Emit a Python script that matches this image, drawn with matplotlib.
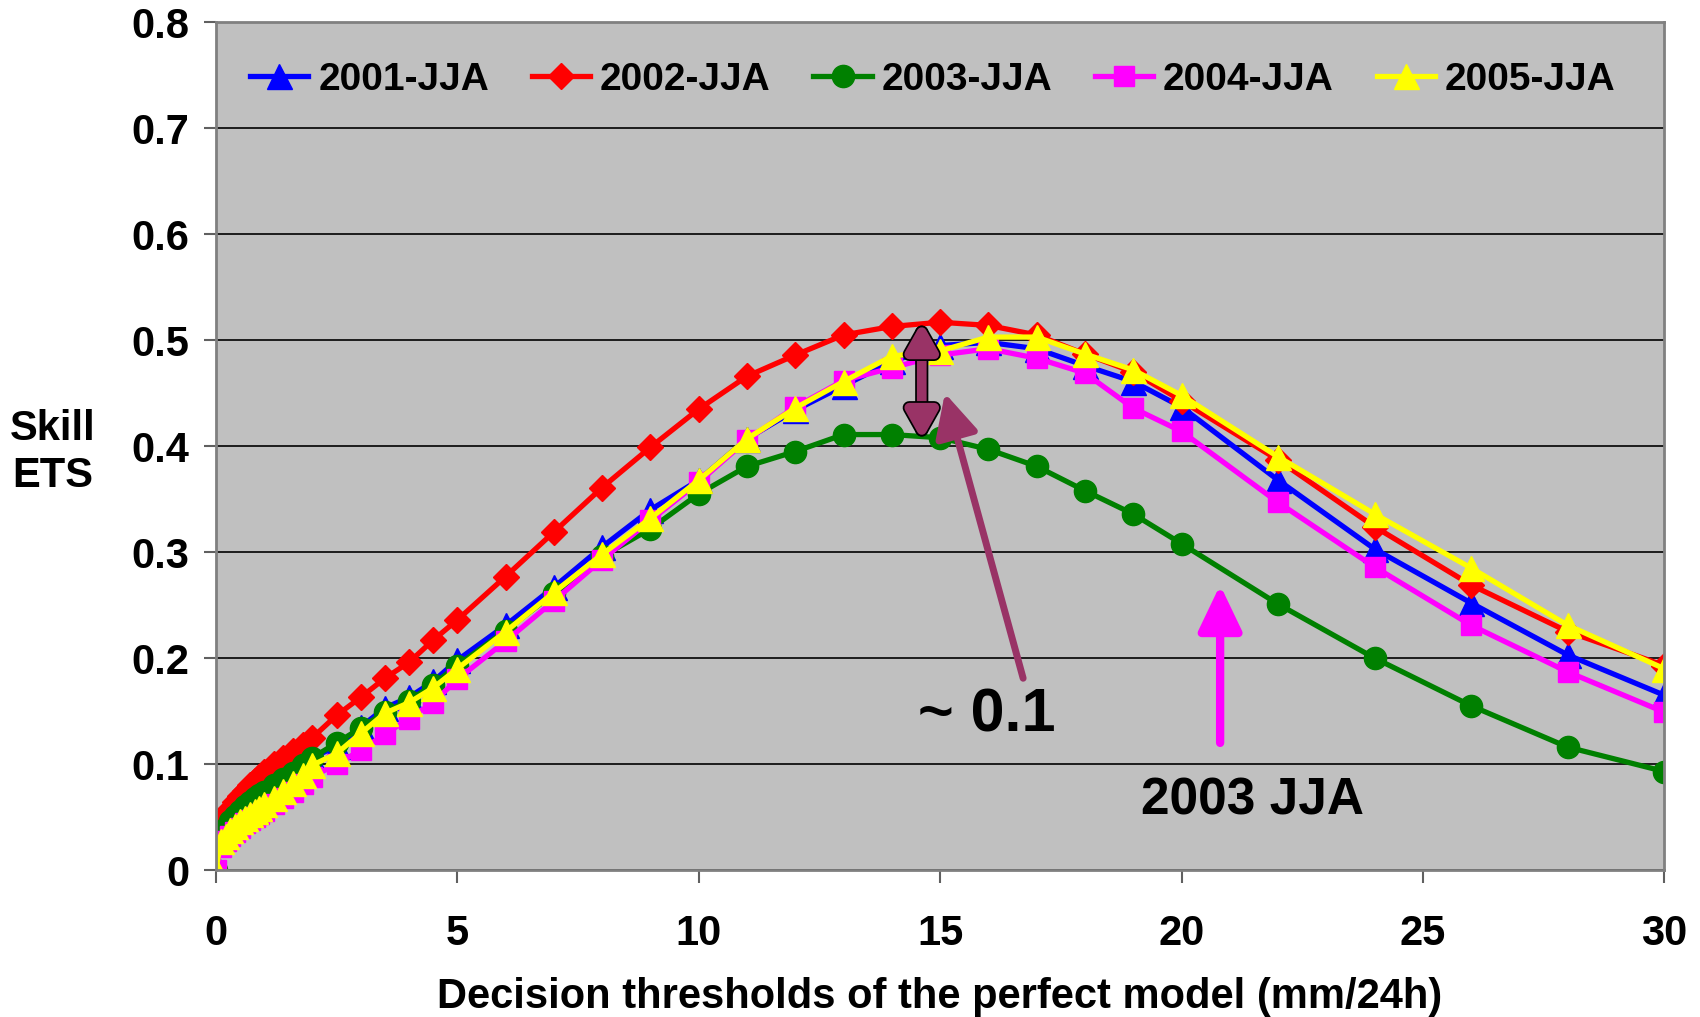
import matplotlib
matplotlib.use("Agg")
import matplotlib.pyplot as plt
import matplotlib.patheffects as pe
from matplotlib.patches import FancyArrowPatch

# decision thresholds (mm/24h)
thresholds = [0, 0.1, 0.2, 0.3, 0.4, 0.5, 0.6, 0.7, 0.8, 0.9, 1.0, 1.2, 1.4, 1.6, 1.8, 2.0,
              2.5, 3, 3.5, 4, 4.5, 5,
              6, 7, 8, 9, 10, 11, 12, 13, 14, 15, 16, 17, 18, 19, 20,
              22, 24, 26, 28, 30]

ets_2001 = [0, 0.035, 0.041, 0.047, 0.052, 0.057, 0.061, 0.065, 0.069, 0.072, 0.075, 0.081, 0.087, 0.093, 0.100, 0.106,
            0.117, 0.135, 0.153, 0.163, 0.178, 0.198,
            0.231, 0.267, 0.305, 0.340, 0.368, 0.407, 0.434, 0.457, 0.480, 0.495, 0.498, 0.492, 0.476, 0.461, 0.437,
            0.368, 0.303, 0.252, 0.203, 0.165]
ets_2002 = [0.035, 0.045, 0.052, 0.058, 0.064, 0.070, 0.075, 0.080, 0.084, 0.088, 0.093, 0.100, 0.106, 0.112, 0.118, 0.125,
            0.146, 0.163, 0.181, 0.196, 0.217, 0.236,
            0.277, 0.319, 0.361, 0.399, 0.435, 0.466, 0.486, 0.505, 0.513, 0.517, 0.514, 0.505, 0.487, 0.470, 0.443,
            0.387, 0.324, 0.269, 0.225, 0.193]
ets_2003 = [0, 0.033, 0.040, 0.046, 0.051, 0.056, 0.060, 0.064, 0.068, 0.071, 0.074, 0.080, 0.086, 0.092, 0.099, 0.106,
            0.120, 0.134, 0.149, 0.160, 0.175, 0.193,
            0.226, 0.261, 0.296, 0.322, 0.355, 0.381, 0.395, 0.411, 0.411, 0.408, 0.397, 0.381, 0.358, 0.336, 0.308,
            0.251, 0.200, 0.155, 0.116, 0.093]
ets_2004 = [0, 0.022, 0.027, 0.032, 0.036, 0.040, 0.044, 0.047, 0.050, 0.053, 0.056, 0.062, 0.068, 0.074, 0.081, 0.088,
            0.100, 0.113, 0.128, 0.143, 0.158, 0.180,
            0.216, 0.254, 0.293, 0.330, 0.366, 0.406, 0.437, 0.462, 0.474, 0.486, 0.492, 0.483, 0.469, 0.436, 0.414,
            0.347, 0.286, 0.231, 0.187, 0.149]
ets_2005 = [0, 0.027, 0.032, 0.038, 0.042, 0.046, 0.049, 0.053, 0.056, 0.059, 0.062, 0.068, 0.075, 0.082, 0.090, 0.099,
            0.110, 0.129, 0.148, 0.158, 0.172, 0.190,
            0.225, 0.262, 0.298, 0.332, 0.368, 0.407, 0.436, 0.461, 0.485, 0.490, 0.503, 0.503, 0.487, 0.472, 0.448,
            0.390, 0.336, 0.285, 0.231, 0.190]

series = [
    ("2001-JJA", ets_2001, "#0000FF", "^", 18),
    ("2002-JJA", ets_2002, "#FF0000", "D", 13),
    ("2003-JJA", ets_2003, "#008000", "o", 16),
    ("2004-JJA", ets_2004, "#FF00FF", "s", 14),
    ("2005-JJA", ets_2005, "#FFFF00", "^", 18),
]

plt.rcParams["font.family"] = ["Liberation Sans", "DejaVu Sans"]
plt.rcParams["font.weight"] = "bold"

fig = plt.figure(figsize=(17, 10.17), dpi=100)
ax = fig.add_axes([0.127, 0.1445, 0.852, 0.8335])
ax.set_facecolor("#C0C0C0")

for label, vals, col, mk, ms in series:
    ax.plot(thresholds, vals, color=col, lw=3.8, marker=mk, ms=ms,
            mfc=col, mec=col, label=label)

ax.set_xlim(0, 30)
ax.set_ylim(0, 0.8)
ax.set_xticks(range(0, 31, 5))
ax.set_yticks([i / 10 for i in range(9)])
ax.set_yticklabels(["0"] + [f"{i / 10:.1f}" for i in range(1, 9)])
ax.yaxis.grid(True, color="black", lw=1.2)
ax.set_axisbelow(True)
for s in ax.spines.values():
    s.set_color("#808080")
    s.set_linewidth(2)
ax.tick_params(axis="both", direction="out", length=9, width=1.5, color="#606060",
               labelsize=30)
ax.tick_params(axis="x", pad=23)
ax.tick_params(axis="y", pad=10)

ax.set_xlabel("Decision thresholds of the perfect model (mm/24h)", fontsize=30,
              fontweight="bold", labelpad=16)
fig.text(0.031, 0.555, "Skill\nETS", fontsize=30, fontweight="bold",
         ha="center", va="center", linespacing=1.25)

ax.legend(loc="center", bbox_to_anchor=(0.495, 0.932), ncol=5, frameon=False,
          handlelength=1.5, handletextpad=0.25, columnspacing=1.1,
          prop={"weight": "bold", "size": 28})

# annotations
purple = "#993366"
dbl = FancyArrowPatch((14.62, 0.406), (14.62, 0.517),
                      arrowstyle="<|-|>,head_length=0.8,head_width=0.45",
                      mutation_scale=20, color=purple, lw=7, shrinkA=0, shrinkB=0,
                      path_effects=[pe.withStroke(linewidth=9.5, foreground="black")],
                      zorder=5)
ax.add_patch(dbl)
ax.annotate("", xy=(15.1, 0.45), xytext=(16.72, 0.181),
            arrowprops=dict(arrowstyle="-|>,head_length=1.2,head_width=0.6",
                            mutation_scale=22, color=purple, lw=5,
                            shrinkA=0, shrinkB=0), zorder=5)
ax.text(15.97, 0.145, "~ 0.1", fontsize=44, fontweight="bold", ha="center",
        va="center")
ax.annotate("", xy=(20.8, 0.269), xytext=(20.8, 0.12),
            arrowprops=dict(arrowstyle="-|>,head_length=1.15,head_width=0.55",
                            mutation_scale=24, color="#FF00FF", lw=6,
                            shrinkA=0, shrinkB=0), zorder=5)
ax.text(21.47, 0.065, "2003 JJA", fontsize=37, fontweight="bold", ha="center",
        va="center")

fig.savefig("out.png", dpi=100)
